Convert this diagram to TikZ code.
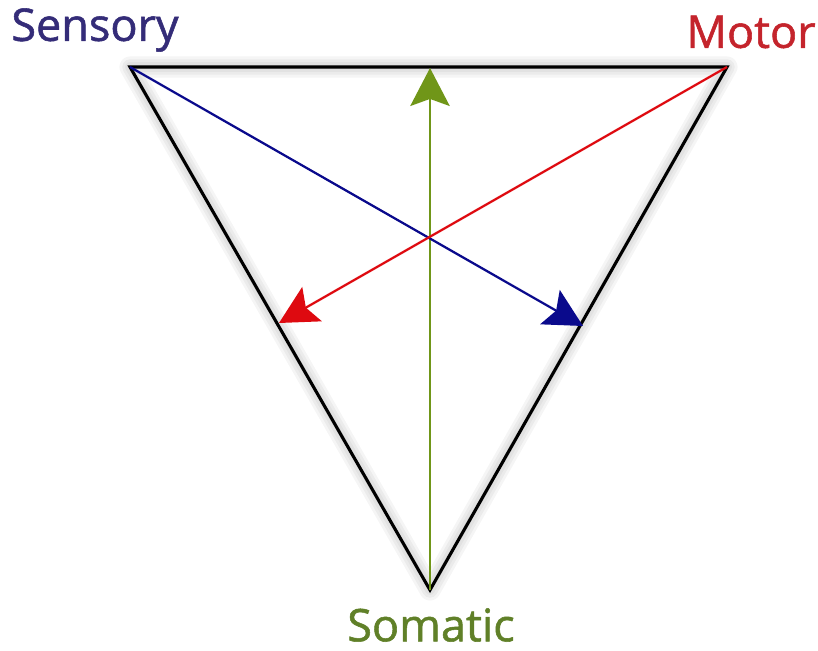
\documentclass[tikz,border=0pt]{standalone}
\usepackage{fontspec}
\setmainfont{Open Sans}
\newfontfamily\labelfont{Open Sans}[FakeBold=1.2]
\usepackage{xcolor}
\usetikzlibrary{arrows.meta, positioning}

\definecolor{sensblue}{RGB}{52,44,120}
\definecolor{motred}{RGB}{196,36,44}
\definecolor{somgreen}{RGB}{96,128,40}
\definecolor{arrblue}{RGB}{10,10,140}
\definecolor{arrred}{RGB}{222,10,16}
\definecolor{arrgreen}{RGB}{112,150,24}

\begin{document}
\begin{tikzpicture}[
    x=0.025cm, y=-0.025cm,
    edge/.style={draw=black, line width=2.2pt, line join=miter},
    softshadow/.style={draw=black, opacity=0.04, line join=round, line cap=round},
    axis/.style={line width=1.6pt, -{Stealth[length=27pt, width=28pt, inset=5pt]}},
    label/.style={font=\labelfont\fontsize{32}{36}\selectfont, inner sep=0pt},
    >=Stealth
]
\useasboundingbox (0,0) rectangle (818,651);

% Corners
\coordinate (sens) at (130,67);
\coordinate (mot) at (727,67);
\coordinate (som) at (430,590);

% Arrow ends
\coordinate (blueend) at (583,326);
\coordinate (redend) at (279,323);
\coordinate (greenend) at (430,68);

% Soft shadow of the triangle
\foreach \w in {3,7,11,15}
  \draw[softshadow, line width=\w pt, xshift=5, yshift=-5] (sens) -- (mot) -- (som) -- cycle;

% Labels
\node[label, text=sensblue] (lsens) at (95,30) {Sensory};
\node[label, text=motred] (lmot) at (751,32) {Motor};
\node[label, text=somgreen] (lsom) at (431,625) {Somatic};

% Triangle
\draw[edge] (sens) -- (mot) -- (som) -- cycle;

% Arrows
\draw[axis, arrgreen] (som) -- (greenend);
\draw[axis, arrblue] (sens) -- (blueend);
\draw[axis, arrred] (mot) -- (redend);

\end{tikzpicture}
\end{document}
